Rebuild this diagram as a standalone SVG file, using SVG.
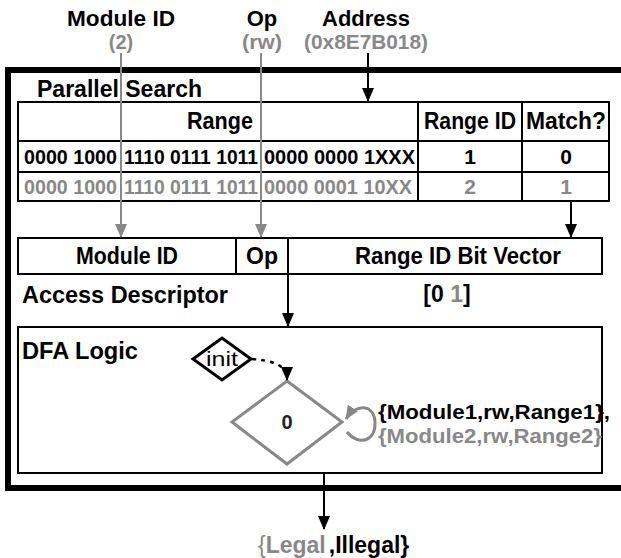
<svg xmlns="http://www.w3.org/2000/svg" width="621" height="558" viewBox="0 0 621 558">
  <style>
    text { font-family: "Liberation Sans", Arial, sans-serif; font-weight: bold; }
    .h { font-size: 23px; fill: #000; }
    .d { font-size: 21px; fill: #000; }
    .g { fill: #888; }
    .mid { text-anchor: middle; }
    .box { fill: #fff; stroke: #000; stroke-width: 2; }
    .ln { fill: none; stroke: #000; stroke-width: 2; }
    .gl { fill: none; stroke: #888; stroke-width: 2; }
  </style>
  <defs>
    <marker id="ah" viewBox="0 0 14 12" refX="13" refY="6" markerWidth="14" markerHeight="12" orient="auto" markerUnits="userSpaceOnUse">
      <path d="M0,0 L14,6 L0,12 z" fill="#000"/>
    </marker>
    <marker id="ahg" viewBox="0 0 14 12" refX="13" refY="6" markerWidth="14" markerHeight="12" orient="auto" markerUnits="userSpaceOnUse">
      <path d="M0,0 L14,6 L0,12 z" fill="#888"/>
    </marker>
  </defs>
  <rect width="621" height="558" fill="#fff"/>

  <!-- inputs -->
  <g id="in-module">
    <text class="h mid" x="121" y="26" style="font-size:22px" textLength="108" lengthAdjust="spacingAndGlyphs">Module ID</text>
    <text class="h mid g" x="121" y="49" style="font-size:20px">(2)</text>
  </g>
  <g id="in-op">
    <text class="h mid" x="262" y="26" style="font-size:22px">Op</text>
    <text class="h mid g" x="262" y="49" style="font-size:20px" textLength="40" lengthAdjust="spacingAndGlyphs">(rw)</text>
  </g>
  <g id="in-address">
    <text class="h mid" x="366" y="26" style="font-size:22px" textLength="88" lengthAdjust="spacingAndGlyphs">Address</text>
    <text class="h mid g" x="366" y="49" style="font-size:20px" textLength="124" lengthAdjust="spacingAndGlyphs">(0x8E7B018)</text>
  </g>

  <!-- enclosing unit -->
  <g id="unit">
    <rect x="8" y="70" width="630" height="418" fill="none" stroke="#000" stroke-width="6"/>
  </g>

  <!-- parallel search table -->
  <g id="parallel-search">
    <text class="h" x="37" y="97" textLength="165" lengthAdjust="spacingAndGlyphs">Parallel Search</text>
    <rect class="box" x="18" y="102" width="591" height="99"/>
    <line class="ln" x1="18" y1="141" x2="609" y2="141"/>
    <line class="ln" x1="18" y1="172" x2="609" y2="172"/>
    <line class="ln" x1="418" y1="102" x2="418" y2="201"/>
    <line class="ln" x1="522" y1="102" x2="522" y2="201"/>
    <text class="h mid" x="220" y="129" textLength="66" lengthAdjust="spacingAndGlyphs">Range</text>
    <text class="h mid" x="470" y="129" textLength="92" lengthAdjust="spacingAndGlyphs">Range ID</text>
    <text class="h mid" x="566" y="129" textLength="80" lengthAdjust="spacingAndGlyphs">Match?</text>
    <text class="d" x="24" y="164" textLength="93" lengthAdjust="spacingAndGlyphs">0000 1000</text>
    <text class="d" x="124" y="164" textLength="134" lengthAdjust="spacingAndGlyphs">1110 0111 1011</text>
    <text class="d" x="264" y="164" textLength="151" lengthAdjust="spacingAndGlyphs">0000 0000 1XXX</text>
    <text class="d mid" x="470" y="164">1</text>
    <text class="d mid" x="566" y="164">0</text>
    <text class="d g" x="24" y="194" textLength="93" lengthAdjust="spacingAndGlyphs">0000 1000</text>
    <text class="d g" x="124" y="194" textLength="134" lengthAdjust="spacingAndGlyphs">1110 0111 1011</text>
    <text class="d g" x="264" y="194" textLength="148" lengthAdjust="spacingAndGlyphs">0000 0001 10XX</text>
    <text class="d mid g" x="470" y="194">2</text>
    <text class="d mid g" x="566" y="194">1</text>
  </g>

  <!-- access descriptor -->
  <g id="access-descriptor">
    <rect class="box" x="18" y="238" width="584" height="36"/>
    <line class="ln" x1="236" y1="238" x2="236" y2="274"/>
    <line class="ln" x1="288" y1="238" x2="288" y2="274"/>
    <text class="h mid" x="127" y="264" textLength="102" lengthAdjust="spacingAndGlyphs">Module ID</text>
    <text class="h mid" x="262" y="264">Op</text>
    <text class="h mid" x="458" y="264" textLength="206" lengthAdjust="spacingAndGlyphs">Range ID Bit Vector</text>
    <text class="h" x="22" y="303" textLength="206" lengthAdjust="spacingAndGlyphs">Access Descriptor</text>
    <text class="h mid" x="447" y="302">[0 <tspan class="g">1</tspan>]</text>
  </g>

  <!-- DFA logic -->
  <g id="dfa-logic">
    <rect class="box" x="18" y="327" width="584" height="146"/>
    <text class="h" x="22" y="359" textLength="116" lengthAdjust="spacingAndGlyphs">DFA Logic</text>
  </g>
  <g id="state-init">
    <polygon points="193,359 222,338 251,359 222,380" fill="#fff" stroke="#000" stroke-width="3"/>
    <text x="222" y="366" text-anchor="middle" style="font-weight:normal;font-size:21px" textLength="32" lengthAdjust="spacingAndGlyphs">init</text>
  </g>
  <g id="state-0">
    <polygon points="287,381 342,422 287,464 232,422" fill="#fff" stroke="#888" stroke-width="3"/>
    <text x="287" y="429" text-anchor="middle" style="font-size:20px" fill="#222">0</text>
  </g>
  <g id="transition-label">
    <text class="h" x="378" y="419" style="font-size:21px" textLength="232" lengthAdjust="spacingAndGlyphs">{Module1,rw,Range1},</text>
    <text class="h g" x="378" y="443" style="font-size:21px" textLength="224" lengthAdjust="spacingAndGlyphs">{Module2,rw,Range2}</text>
  </g>

  <!-- output -->
  <g id="out-result">
    <text class="h" x="258" y="553"><tspan class="g" style="font-weight:normal">{</tspan><tspan class="g">Legal</tspan><tspan dx="3">,Illegal}</tspan></text>
  </g>

  <!-- connectors -->
  <g id="connectors">
    <line class="gl" x1="121" y1="53" x2="121" y2="237" marker-end="url(#ahg)"/>
    <line class="gl" x1="261" y1="53" x2="261" y2="237" marker-end="url(#ahg)"/>
    <line class="ln" x1="368" y1="53" x2="368" y2="101" marker-end="url(#ah)"/>
    <line class="ln" x1="571" y1="201" x2="571" y2="237" marker-end="url(#ah)"/>
    <line class="ln" x1="288" y1="274" x2="288" y2="326" marker-end="url(#ah)"/>
    <path d="M252,359 Q280,361 286,372" fill="none" stroke="#000" stroke-width="2.5" stroke-dasharray="4 5"/>
    <path d="M287,372 L287,380" stroke="#000" stroke-width="2" marker-end="url(#ah)"/>
    <path d="M347,432 C358,446 376,442 375,422 C374,404 356,403 346,419" fill="none" stroke="#888" stroke-width="3" marker-end="url(#ahg)"/>
    <line class="ln" x1="324" y1="473" x2="324" y2="529" marker-end="url(#ah)"/>
  </g>
</svg>
